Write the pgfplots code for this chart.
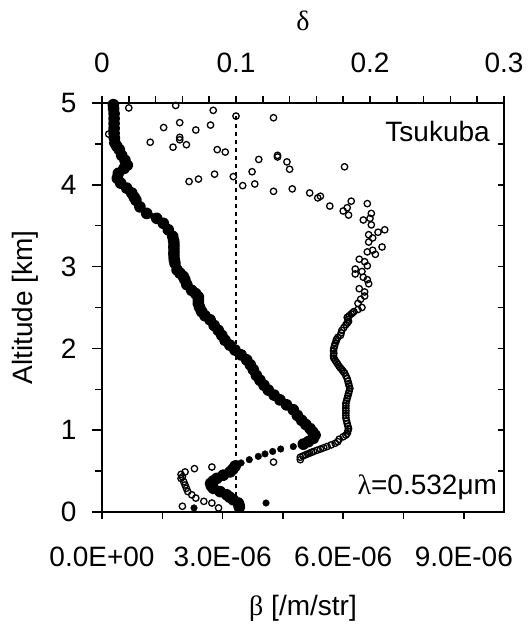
\documentclass[border=0pt]{standalone}
\usepackage{fontspec}
\setmainfont{Liberation Sans}
\newfontfamily\greekserif{Liberation Serif}
\usepackage{pgfplots}
\usepackage{pgfplotstable}
\pgfplotsset{compat=1.18}

% backscatter coefficient beta [/m/str] vs altitude [km]
% continuous part of the profile, top down to the nose near 0.9 km
\pgfplotstableread{
alt beta
4.98 0.281e-6
4.93 0.290e-6
4.87 0.299e-6
4.81 0.300e-6
4.75 0.299e-6
4.69 0.300e-6
4.63 0.299e-6
4.57 0.310e-6
4.51 0.323e-6
4.47 0.370e-6
4.43 0.430e-6
4.36 0.490e-6
4.30 0.572e-6
4.24 0.629e-6
4.20 0.547e-6
4.14 0.405e-6
4.08 0.381e-6
4.02 0.465e-6
3.96 0.614e-6
3.90 0.739e-6
3.85 0.800e-6
3.81 0.846e-6
3.73 0.945e-6
3.65 1.112e-6
3.59 1.361e-6
3.53 1.525e-6
3.45 1.649e-6
3.37 1.759e-6
3.32 1.780e-6
3.28 1.791e-6
3.24 1.790e-6
3.20 1.791e-6
3.16 1.790e-6
3.12 1.791e-6
3.08 1.800e-6
3.04 1.816e-6
2.96 1.866e-6
2.92 1.940e-6
2.88 2.022e-6
2.84 2.060e-6
2.78 2.110e-6
2.71 2.231e-6
2.67 2.330e-6
2.63 2.396e-6
2.59 2.400e-6
2.55 2.396e-6
2.50 2.430e-6
2.45 2.480e-6
2.40 2.560e-6
2.35 2.687e-6
2.28 2.790e-6
2.22 2.893e-6
2.16 2.980e-6
2.10 3.060e-6
2.04 3.180e-6
1.98 3.308e-6
1.92 3.460e-6
1.86 3.600e-6
1.80 3.690e-6
1.74 3.764e-6
1.67 3.840e-6
1.61 3.930e-6
1.55 4.030e-6
1.49 4.137e-6
1.43 4.280e-6
1.37 4.428e-6
1.31 4.590e-6
1.25 4.759e-6
1.18 4.860e-6
1.12 4.968e-6
1.07 5.070e-6
1.02 5.174e-6
0.98 5.240e-6
0.94 5.299e-6
0.90 5.256e-6
0.86 5.132e-6
0.83 5.007e-6
}\betaupper

% separate points below the nose
\pgfplotstableread{
alt beta
0.80 4.759e-6
0.77 4.445e-6
0.74 4.246e-6
0.71 4.055e-6
0.68 3.888e-6
0.64 3.664e-6
0.60 3.460e-6
0.11 4.080e-6
0.05 2.289e-6
}\betasparse

% lowest chain of points
\pgfplotstableread{
alt beta
0.56 3.310e-6
0.52 3.250e-6
0.49 3.184e-6
0.45 3.017e-6
0.41 2.853e-6
0.38 2.770e-6
0.35 2.704e-6
0.32 2.720e-6
0.29 2.769e-6
0.25 2.935e-6
0.21 3.102e-6
0.18 3.180e-6
0.15 3.266e-6
0.11 3.391e-6
0.08 3.410e-6
0.06 3.416e-6
}\betalower

% depolarization ratio delta vs altitude [km]
\pgfplotstableread{
alt delta
4.97 0.055
4.94 0.020
4.91 0.083
4.84 0.100
4.82 0.128
4.76 0.058
4.73 0.081
4.70 0.046
4.67 0.070
4.62 0.005
4.58 0.058
4.55 0.058
4.52 0.036
4.49 0.063
4.46 0.053
4.43 0.086
4.40 0.092
4.36 0.131
4.34 0.131
4.31 0.117
4.28 0.138
4.22 0.181
4.19 0.140
4.16 0.112
4.13 0.084
4.10 0.098
4.07 0.072
4.04 0.065
4.01 0.114
3.99 0.105
3.95 0.142
3.92 0.128
3.90 0.155
3.86 0.163
3.84 0.161
3.80 0.186
3.77 0.198
3.74 0.170
3.72 0.183
3.68 0.180
3.65 0.201
3.63 0.184
3.59 0.200
3.57 0.195
3.51 0.201
3.45 0.211
3.42 0.206
3.39 0.199
3.35 0.202
3.30 0.199
3.24 0.209
3.20 0.202
3.18 0.198
3.15 0.204
3.09 0.192
3.06 0.196
3.01 0.198
2.97 0.189
2.94 0.194
2.91 0.189
2.87 0.195
2.84 0.198
2.79 0.199
2.73 0.192
2.69 0.196
2.64 0.196
2.60 0.193
2.55 0.191
2.50 0.194
2.475 0.191
2.45 0.188
2.435 0.187
2.42 0.186
2.40 0.1845
2.38 0.183
2.355 0.1835
2.33 0.184
2.31 0.183
2.29 0.182
2.255 0.1805
2.22 0.179
2.19 0.1785
2.16 0.178
2.135 0.176
2.11 0.175
2.09 0.1748
2.06 0.174
2.03 0.1735
2.00 0.173
1.97 0.1728
1.94 0.173
1.91 0.1728
1.88 0.173
1.855 0.174
1.83 0.175
1.805 0.176
1.78 0.177
1.76 0.178
1.74 0.179
1.72 0.180
1.70 0.181
1.665 0.182
1.63 0.183
1.60 0.1835
1.57 0.184
1.54 0.1845
1.51 0.185
1.48 0.1845
1.45 0.184
1.42 0.1835
1.39 0.183
1.36 0.1825
1.33 0.182
1.30 0.182
1.27 0.182
1.24 0.182
1.21 0.182
1.18 0.182
1.15 0.182
1.115 0.1825
1.08 0.183
1.05 0.1835
1.02 0.184
0.99 0.1835
0.96 0.183
0.94 0.182
0.92 0.180
0.89 0.177
0.86 0.176
0.84 0.174
0.82 0.171
0.80 0.168
0.785 0.1655
0.77 0.163
0.755 0.1605
0.74 0.158
0.73 0.1565
0.72 0.155
0.71 0.1535
0.70 0.152
0.685 0.150
0.67 0.148
0.64 0.148
0.61 0.128
0.59 0.100
0.55 0.082
0.53 0.069
0.49 0.062
0.46 0.059
0.43 0.060
0.41 0.059
0.37 0.061
0.33 0.062
0.29 0.063
0.25 0.064
0.21 0.067
0.17 0.070
0.13 0.076
0.11 0.082
0.07 0.060
0.05 0.087
}\deltatab

\pgfplotsset{
  common/.style={
    at={(0,0)}, anchor=south west,
    width=402bp, height=409bp, scale only axis,
    ymin=0, ymax=5,
    axis line style={line width=1.5bp},
    tick style={line width=1.5bp, black},
    tick label style={font=\fontsize{28bp}{32bp}\selectfont},
    label style={font=\fontsize{28bp}{32bp}\selectfont},
    /pgf/number format/assume math mode=true,
  },
}

\begin{document}
\begin{tikzpicture}
\path[use as bounding box] (-102bp,-112bp) rectangle (426bp,512bp);

\begin{axis}[common,
    xmin=0, xmax=1e-5,
    xtick={0,1.5e-6,3e-6,4.5e-6,6e-6,7.5e-6,9e-6},
    xticklabels={0.0E+00,,3.0E-06,,6.0E-06,,9.0E-06},
    scaled x ticks=false,
    ytick={0,1,2,3,4,5},
    minor ytick={0.5,1.5,2.5,3.5,4.5},
    xtick pos=left, ytick pos=left,
    tick align=outside,
    major tick length=7bp, minor tick length=7bp,
    ytick style={/pgfplots/major tick length=10bp},
    xticklabel style={yshift=-24bp},
    yticklabel style={xshift=-15bp},
    xlabel={{\greekserif β} [/m/str]},
    ylabel={Altitude [km]},
    xlabel style={at={(axis description cs:0.5,-0.235)}, anchor=center},
    ylabel style={at={(axis description cs:-0.19,0.5)}, anchor=center},
  ]
  \addplot[black, line width=1.5bp, dash pattern=on 4bp off 4bp]
    coordinates {(3.3333e-6,0) (3.3333e-6,4.88)};
  \addplot[black, line width=5.5bp, line join=round, line cap=round,
    mark=*, mark size=3.2bp] table[x=beta, y=alt] {\betaupper};
  \addplot[black, line width=5.5bp, line join=round, line cap=round,
    mark=*, mark size=3.2bp] table[x=beta, y=alt] {\betalower};
  \addplot[only marks, mark=*, mark size=3.3bp, black] table[x=beta, y=alt] {\betasparse};
  \node[anchor=base east, inner sep=0pt, font=\fontsize{28bp}{32bp}\selectfont]
    at (rel axis cs:0.965,0.905) {Tsukuba};
  \node[anchor=base east, inner sep=0pt, font=\fontsize{28bp}{32bp}\selectfont]
    at (rel axis cs:0.983,0.0416) {{\greekserif λ}=0.532μm};
\end{axis}

\begin{axis}[common,
    xmin=0, xmax=0.3,
    axis x line*=top, axis y line=none,
    xtick={0,0.1,0.2,0.3},
    minor xtick={0.02,0.04,0.06,0.08,0.12,0.14,0.16,0.18,0.22,0.24,0.26,0.28},
    xticklabel style={/pgf/number format/fixed, yshift=20bp},
    tick align=outside,
    major tick length=7bp, minor tick length=7bp,
    xlabel={\greekserif δ},
    xlabel style={at={(axis description cs:0.5,1.2)}, anchor=center},
  ]
  \addplot[only marks, mark=o, mark size=3.2bp, line width=1.3bp, black,
    mark options={fill=white}] table[x=delta, y=alt] {\deltatab};
\end{axis}

\begin{axis}[common,
    xmin=0, xmax=1,
    axis y line*=right, axis x line=none,
    ytick={0,0.5,...,5}, yticklabels={},
    tick align=inside, major tick length=6bp,
  ]
\end{axis}
\end{tikzpicture}
\end{document}
